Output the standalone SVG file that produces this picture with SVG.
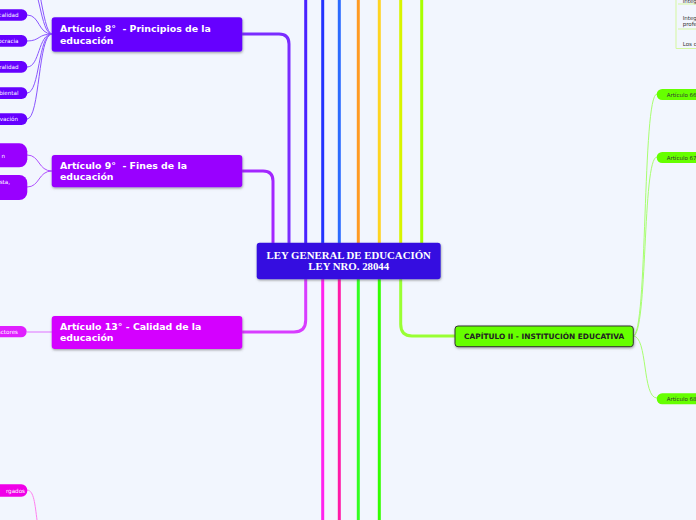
<svg xmlns="http://www.w3.org/2000/svg" width="696" height="520" viewBox="0 0 696 520">
<defs>
<filter id="sh" x="-10%" y="-20%" width="120%" height="150%">
<feDropShadow dx="0.5" dy="1.2" stdDeviation="0.8" flood-color="#555" flood-opacity="0.55"/>
</filter>
<style>
.trunk{fill:none;stroke-width:3;stroke-linecap:butt}
.br{fill:none;stroke-width:1}
.nt{font-family:"DejaVu Sans",sans-serif;font-weight:bold;font-size:9.4px;fill:#fff}
.pt{font-family:"DejaVu Sans",sans-serif;font-size:5.6px;fill:#fff}
.gt{font-family:"DejaVu Sans",sans-serif;font-size:5.5px;fill:#333}
</style>
</defs>
<rect width="696" height="520" fill="#f2f6fe"/>
<g id="connectors">
<path class="trunk" stroke="#a326ff" d="M242,171 H263 Q273,171 273,181 V243"/>
<path class="trunk" stroke="#7a2cff" d="M242,34 H279 Q289,34 289,44 V243"/>
<path class="trunk" stroke="#4a22ff" d="M305.7,0 V243"/>
<path class="trunk" stroke="#2233ff" d="M322.7,0 V243"/>
<path class="trunk" stroke="#2a6aff" d="M339.3,0 V243"/>
<path class="trunk" stroke="#ff9a22" d="M358.3,0 V243"/>
<path class="trunk" stroke="#ffd422" d="M379.3,0 V243"/>
<path class="trunk" stroke="#d8f500" d="M400.7,0 V243"/>
<path class="trunk" stroke="#a8ff00" d="M421.7,0 V243"/>
<path class="trunk" stroke="#d83cff" d="M242,332 H294 Q305.7,332 305.7,320 V279"/>
<path class="trunk" stroke="#ff22ee" d="M322.7,279 V520"/>
<path class="trunk" stroke="#ff1aa8" d="M339.3,279 V520"/>
<path class="trunk" stroke="#33ff22" d="M358.3,279 V520"/>
<path class="trunk" stroke="#33ff00" d="M379.3,279 V520"/>
<path class="trunk" stroke="#99ff33" d="M400.7,279 V324 Q400.7,336 412,336 H455"/>
<g stroke="#8a55ff" class="br">
<path d="M27,15 C40,15 38,34 52,34"/>
<path d="M27,41 C40,41 38,34 52,34"/>
<path d="M27,67 C40,67 38,34 52,34"/>
<path d="M27,93 C40,93 38,34 52,34"/>
<path d="M27,119 C40,119 38,34 52,34"/>
<path d="M27,-20 C40,-20 40,34 52,34"/>
<path d="M27,-45 C38,-45 42,34 52,34"/>
</g>
<g stroke="#b050ff" class="br">
<path d="M27,155 C40,155 38,171 52,171"/>
<path d="M27,187 C40,187 38,171 52,171"/>
</g>
<path class="br" stroke="#e070ff" d="M27,332 H52"/>
<path class="br" stroke="#ff80f0" d="M27,490 C34,490 35,505 37,520"/>
<g stroke="#a8ff70" class="br">
<path d="M633,336 C648,336 642,94 657,94"/>
<path d="M633,336 C648,336 642,157 657,157"/>
<path d="M633,336 C648,336 642,398 657,398"/>
</g>
<g stroke="#d4f7a0" class="br">
<path d="M676,0 V48.5 H696"/>
<path d="M678,4 H696"/>
<path d="M678,29 H696"/>
</g>
</g>
<g id="center">
<rect x="256.7" y="242.7" width="184" height="36.6" rx="3" fill="#3410e0" filter="url(#sh)"/>
<text x="348.7" y="258.5" text-anchor="middle" font-family="Liberation Serif,serif" font-weight="bold" font-size="10.8" fill="#fff">LEY GENERAL DE EDUCACIÓN</text>
<text x="348.7" y="270.3" text-anchor="middle" font-family="Liberation Serif,serif" font-weight="bold" font-size="10.8" fill="#fff">LEY NRO. 28044</text>
</g>
<g id="art8">
<rect x="51.7" y="17.3" width="190.6" height="34.4" rx="3" fill="#6600ff" filter="url(#sh)"/>
<text class="nt" x="60" y="32">Artículo 8°&#160; - Principios de la</text>
<text class="nt" x="60" y="43.5">educación</text>
</g>
<g id="art9">
<rect x="51.7" y="155" width="190.6" height="32.3" rx="3" fill="#9900ff" filter="url(#sh)"/>
<text class="nt" x="60" y="168.5">Artículo 9°&#160; - Fines de la</text>
<text class="nt" x="60" y="179.8">educación</text>
</g>
<g id="art13">
<rect x="51.7" y="316" width="190.6" height="33" rx="3" fill="#d400ff" filter="url(#sh)"/>
<text class="nt" x="60" y="329.5">Artículo 13° - Calidad de la</text>
<text class="nt" x="60" y="341">educación</text>
</g>
<g id="cap2">
<rect x="455" y="326" width="178.3" height="20.7" rx="3" fill="#66ff00" stroke="#333" stroke-width="1" filter="url(#sh)"/>
<text x="544.2" y="339.2" text-anchor="middle" font-family="DejaVu Sans,sans-serif" font-weight="bold" font-size="7.4" fill="#222">CAPÍTULO II - INSTITUCIÓN EDUCATIVA</text>
</g>
<g id="p8a"><rect x="-20" y="9.3" width="47.3" height="11.4" rx="5.7" fill="#6600ff"/><text class="pt" x="18.5" y="17" text-anchor="end">calidad</text></g>
<g id="p8b"><rect x="-20" y="35" width="47.3" height="11.7" rx="5.8" fill="#6600ff"/><text class="pt" x="18.5" y="42.9" text-anchor="end">ocracia</text></g>
<g id="p8c"><rect x="-20" y="61" width="47.3" height="11.7" rx="5.8" fill="#6600ff"/><text class="pt" x="18.5" y="68.9" text-anchor="end">ralidad</text></g>
<g id="p8d"><rect x="-20" y="87.3" width="47.3" height="11.7" rx="5.8" fill="#6600ff"/><text class="pt" x="18.5" y="95.2" text-anchor="end">biental</text></g>
<g id="p8e"><rect x="-20" y="113.3" width="47.3" height="11.7" rx="5.8" fill="#6600ff"/><text class="pt" x="18" y="121.2" text-anchor="end">vación</text></g>
<g id="p9a"><rect x="-20" y="143.3" width="47.3" height="24" rx="8" fill="#9900ff"/><text class="pt" x="5" y="157.5" text-anchor="end">n</text></g>
<g id="p9b"><rect x="-20" y="175" width="47.3" height="25" rx="8" fill="#9900ff"/><text class="pt" x="10" y="183.5" text-anchor="end">sta,</text></g>
<g id="p13"><rect x="-20" y="326" width="46.7" height="11.3" rx="5.6" fill="#e020ff"/><text class="pt" x="18" y="333.7" text-anchor="end" fill="#f6c8ff">actores</text></g>
<g id="pbl"><rect x="-20" y="484.3" width="47.3" height="12.4" rx="6" fill="#f000e8"/><text class="pt" x="25" y="492.6" text-anchor="end" fill="#ffd0f8">rgados</text></g>
<g id="a66"><rect x="656.7" y="89" width="60" height="11" rx="5.5" fill="#66ff00"/><text class="gt" x="666.7" y="96.5">Artículo 66</text></g>
<g id="a67"><rect x="656.7" y="152" width="60" height="11" rx="5.5" fill="#66ff00"/><text class="gt" x="666.7" y="159.5">Artículo 67</text></g>
<g id="a68"><rect x="656.7" y="393.3" width="60" height="11" rx="5.5" fill="#66ff00"/><text class="gt" x="666.7" y="400.8">Artículo 68</text></g>
<g id="list">
<text class="gt" x="682.7" y="3">Integ</text>
<text class="gt" x="682.7" y="20">Integ</text>
<text class="gt" x="682.7" y="26">profe</text>
<text class="gt" x="682.7" y="46">Los c</text>
</g>
</svg>
